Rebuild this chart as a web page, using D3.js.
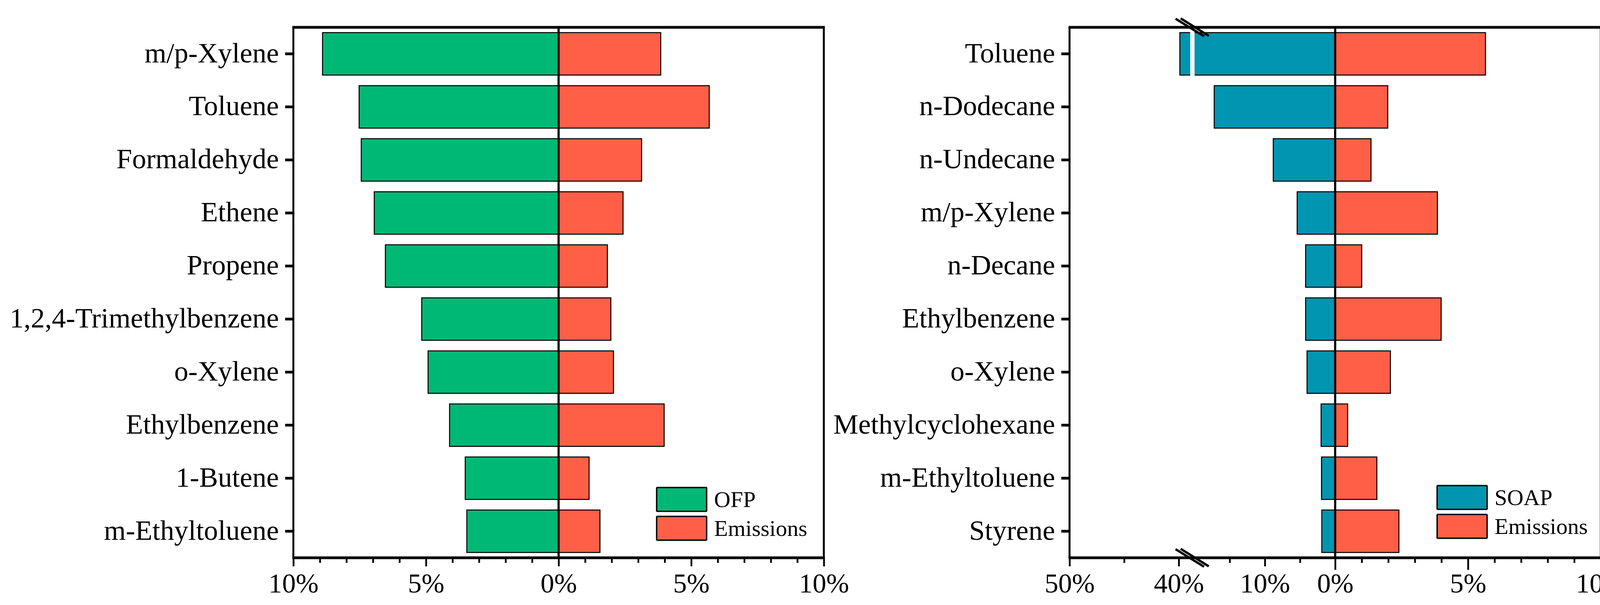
<!DOCTYPE html>
<html><head><meta charset="utf-8">
<script src="https://cdn.jsdelivr.net/npm/d3@7"></script>
<style>
body{margin:0;background:#fff}
svg{display:block}
text{font-family:"Liberation Serif","Times New Roman",serif;fill:#000}
</style>
</head><body>
<svg id="chart" width="4196" height="1550"></svg>
<script>
// ---------- DATA ----------
const ofpCategories = ["m/p-Xylene","Toluene","Formaldehyde","Ethene","Propene","1,2,4-Trimethylbenzene","o-Xylene","Ethylbenzene","1-Butene","m-Ethyltoluene"];
const ofpValues      = [8.90, 7.52, 7.44, 6.95, 6.53, 5.16, 4.92, 4.11, 3.52, 3.46];
const ofpEmissions   = [3.85, 5.68, 3.13, 2.43, 1.84, 1.97, 2.07, 3.98, 1.15, 1.56];

const soapCategories = ["Toluene","n-Dodecane","n-Undecane","m/p-Xylene","n-Decane","Ethylbenzene","o-Xylene","Methylcyclohexane","m-Ethyltoluene","Styrene"];
const soapValues     = [39.9, 17.2, 8.8, 5.4, 4.2, 4.2, 4.0, 2.0, 1.94, 1.9];
const soapEmissions  = [5.66, 1.98, 1.35, 3.85, 1.00, 3.99, 2.08, 0.47, 1.57, 2.40];

const ofpMajorTicks  = [-10, -5, 0, 5, 10];
const ofpTickLabels  = ["10%", "5%", "0%", "5%", "10%"];
const soapLeftMajorTicks  = [-50, -40, -10];
const soapLeftTickLabels  = ["50%", "40%", "10%"];
const soapRightMajorTicks = [0, 5, 10];
const soapRightTickLabels = ["0%", "5%", "10%"];
const soapBreak = [-38.95, -20];   // axis break (SOAP side)

const legendOFP  = ["OFP", "Emissions"];
const legendSOAP = ["SOAP", "Emissions"];

// ---------- STYLE ----------
const GREEN = "#00B876", RED = "#FF5F46", TEAL = "#0095B0";
const FONT = 72, TICK_FONT = 70, LEG_FONT = 58;

const svg = d3.select("#chart");
const plotTop = 70, plotBottom = 1429;

function panel(opt) {
  const g = svg.append("g");
  const {x, left, right, cats, neg, pos, negColor, legend} = opt;
  const y = d3.scaleBand().domain(cats).range([plotTop, plotBottom]).paddingInner(0.2).paddingOuter(0.1);
  const x0 = x(0);

  // bars
  g.selectAll("rect.neg").data(cats).join("rect").attr("class", "neg")
    .attr("x", (d, i) => x(-neg[i])).attr("width", (d, i) => x0 - x(-neg[i]))
    .attr("y", d => y(d)).attr("height", y.bandwidth())
    .attr("fill", negColor).attr("stroke", "#000").attr("stroke-width", 2.6);
  g.selectAll("rect.pos").data(cats).join("rect").attr("class", "pos")
    .attr("x", x0).attr("width", (d, i) => x(pos[i]) - x0)
    .attr("y", d => y(d)).attr("height", y.bandwidth())
    .attr("fill", RED).attr("stroke", "#000").attr("stroke-width", 2.6);

  if (opt.breakVals) {
    const bx1 = x(opt.breakVals[0]), bx2 = x(opt.breakVals[1]);
    g.selectAll("rect.gap").data(cats.filter((d, i) => -neg[i] < opt.breakVals[0])).join("rect")
      .attr("class", "gap")
      .attr("x", bx1).attr("width", bx2 - bx1)
      .attr("y", d => y(d) - 3).attr("height", y.bandwidth() + 6)
      .attr("fill", "#fff");
  }

  // zero line
  g.append("line").attr("x1", x0).attr("x2", x0).attr("y1", plotTop).attr("y2", plotBottom)
    .attr("stroke", "#000").attr("stroke-width", 5.5);

  // category axis
  const ya = g.append("g").attr("transform", `translate(${left},0)`)
    .call(d3.axisLeft(y).tickSize(21).tickPadding(16));
  ya.select(".domain").remove();
  ya.selectAll(".tick line").attr("stroke", "#000").attr("stroke-width", 7);
  ya.selectAll(".tick text").attr("font-size", FONT).attr("dy", "0.30em")
    .attr("font-family", "Liberation Serif, Times New Roman, serif").attr("fill", "#000");

  // bottom axis: minor ticks
  const minor = g.append("g").attr("transform", `translate(0,${plotBottom})`)
    .call(d3.axisBottom(x).tickValues(opt.minorTicks).tickSize(13).tickFormat(""));
  minor.select(".domain").remove();
  minor.selectAll(".tick line").attr("stroke", "#000").attr("stroke-width", 4.5);

  // bottom axis: major ticks groups
  opt.majorGroups.forEach(mg => {
    const ax = g.append("g").attr("transform", `translate(0,${plotBottom})`)
      .call(d3.axisBottom(x).tickValues(mg.values).tickSize(mg.size)
        .tickFormat((d, i) => mg.labels[i]));
    ax.select(".domain").remove();
    ax.selectAll(".tick line").attr("stroke", "#000").attr("stroke-width", 4.5);
    ax.selectAll(".tick text").attr("font-size", TICK_FONT).attr("y", 89).attr("dy", 0)
      .attr("font-family", "Liberation Serif, Times New Roman, serif").attr("fill", "#000");
  });

  // frame
  g.append("line").attr("x1", left - 2.5).attr("x2", right + 2.5).attr("y1", plotTop).attr("y2", plotTop)
    .attr("stroke", "#000").attr("stroke-width", 7);
  g.append("line").attr("x1", left - 2.5).attr("x2", right + 2.5).attr("y1", plotBottom).attr("y2", plotBottom)
    .attr("stroke", "#000").attr("stroke-width", 7);
  g.append("line").attr("x1", left).attr("x2", left).attr("y1", plotTop).attr("y2", plotBottom)
    .attr("stroke", "#000").attr("stroke-width", 5);
  g.append("line").attr("x1", right).attr("x2", right).attr("y1", plotTop).attr("y2", plotBottom)
    .attr("stroke", "#000").attr("stroke-width", 5);

  // break marks
  if (opt.breakVals) {
    const xb = (x(opt.breakVals[0]) + x(opt.breakVals[1])) / 2;
    [plotTop, plotBottom].forEach(yy => {
      [[-43, -22, 30, 23], [-30, -23, 42, 22]].forEach(s => {
        g.append("line").attr("x1", xb + s[0]).attr("y1", yy + s[1])
          .attr("x2", xb + s[2]).attr("y2", yy + s[3])
          .attr("stroke", "#000").attr("stroke-width", 6);
      });
    });
  }

  // legend
  const L = legend;
  const lg = g.append("g");
  L.items.forEach((name, i) => {
    lg.append("rect").attr("x", right - L.dx).attr("y", plotBottom - L.dy + i * 74)
      .attr("width", 128).attr("height", 61).attr("rx", 2)
      .attr("fill", i === 0 ? negColor : RED).attr("stroke", "#000").attr("stroke-width", 3.5);
    lg.append("text").attr("x", right - L.dx + 147).attr("y", plotBottom - L.dy + 50 + i * 74)
      .attr("font-size", LEG_FONT).text(name);
  });
}

// ---------- LEFT PANEL (OFP) ----------
const L1 = 751, R1 = 2109;
const xOFP = d3.scaleLinear().domain([-10, 10]).range([L1, R1]);
panel({
  x: xOFP, left: L1, right: R1, cats: ofpCategories, neg: ofpValues, pos: ofpEmissions,
  negColor: GREEN,
  minorTicks: d3.range(-9, 10).filter(v => v % 5 !== 0),
  majorGroups: [{values: ofpMajorTicks, labels: ofpTickLabels, size: 22}],
  legend: {items: legendOFP, dx: 428, dy: 180}
});

// ---------- RIGHT PANEL (SOAP, broken axis) ----------
const L2 = 2738, R2 = 4098;
const W2 = R2 - L2;
const xSOAP = d3.scaleLinear()
  .domain([-50, soapBreak[0], soapBreak[1], 0, 10])
  .range([L2, L2 + W2 * 0.2272, L2 + W2 * 0.2353, L2 + W2 * 0.5, R2]);
panel({
  x: xSOAP, left: L2, right: R2, cats: soapCategories, neg: soapValues, pos: soapEmissions,
  negColor: TEAL, breakVals: soapBreak,
  minorTicks: [-45, -15, -5, 1, 2, 3, 4, 6, 7, 8, 9],
  majorGroups: [
    {values: soapLeftMajorTicks, labels: soapLeftTickLabels, size: 22},
    {values: soapRightMajorTicks, labels: soapRightTickLabels, size: 31}
  ],
  legend: {items: legendSOAP, dx: 419, dy: 185}
});
</script>
</body></html>
